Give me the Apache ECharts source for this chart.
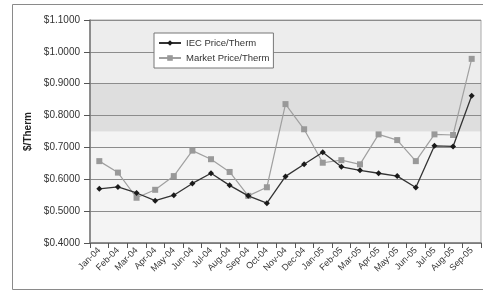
<!DOCTYPE html>
<html>
<head>
<meta charset="utf-8">
<script src="https://cdn.jsdelivr.net/npm/echarts@6/dist/echarts.min.js"></script>
<style>
  html, body { margin: 0; padding: 0; background: #fff; }
  #chart { width: 483px; height: 293px; }
</style>
</head>
<body>
<div id="chart"></div>
<script>
// months on the x axis
const months = ['Jan-04', 'Feb-04', 'Mar-04', 'Apr-04', 'May-04', 'Jun-04', 'Jul-04', 'Aug-04',
  'Sep-04', 'Oct-04', 'Nov-04', 'Dec-04', 'Jan-05', 'Feb-05', 'Mar-05', 'Apr-05', 'May-05',
  'Jun-05', 'Jul-05', 'Aug-05', 'Sep-05'];
// $/therm values
const iecPrice = [0.570, 0.576, 0.557, 0.533, 0.550, 0.587, 0.619, 0.581, 0.548, 0.525,
  0.609, 0.647, 0.685, 0.639, 0.628, 0.619, 0.610, 0.574, 0.705, 0.703, 0.862];
const marketPrice = [0.657, 0.621, 0.542, 0.567, 0.610, 0.690, 0.663, 0.623, 0.548, 0.575,
  0.836, 0.757, 0.652, 0.660, 0.647, 0.741, 0.723, 0.657, 0.741, 0.739, 0.978];
// shaded bands behind the plot [from, to]
const bands = [[0.4, 0.75], [0.75, 0.9], [0.9, 1.1]];
const bandColors = ['#f4f4f4', '#dedede', '#ededed'];

const font = 'Liberation Sans, Arial, sans-serif';
const chart = echarts.init(document.getElementById('chart'));

chart.setOption({
  animation: false,
  textStyle: { fontFamily: font },
  grid: { left: 90, right: 2, top: 20, bottom: 50, show: true, borderColor: '#aaa', borderWidth: 1 },
  graphic: [{
    type: 'rect', z: -10, silent: true,
    shape: { x: 12.5, y: 4.5, width: 500, height: 285 },
    style: { fill: 'none', stroke: '#8a8a8a', lineWidth: 1 }
  }],
  legend: {
    orient: 'vertical',
    left: 154, top: 33,
    padding: [5, 4, 5, 4],
    itemGap: 5,
    itemWidth: 22, itemHeight: 7,
    backgroundColor: '#fff',
    borderColor: '#777', borderWidth: 1,
    textStyle: { fontFamily: font, fontSize: 9.5, color: '#333' },
    data: ['IEC Price/Therm', 'Market Price/Therm']
  },
  xAxis: {
    type: 'category',
    data: months,
    boundaryGap: true,
    axisLine: { lineStyle: { color: '#777', width: 1.5 } },
    axisTick: { show: true, length: 5, lineStyle: { color: '#555' } },
    axisLabel: { rotate: 45, fontSize: 9, color: '#333', margin: 6, interval: 0, fontFamily: font },
    splitLine: { show: false }
  },
  yAxis: {
    type: 'value',
    min: 0.4, max: 1.1, interval: 0.1,
    name: '$/Therm',
    nameLocation: 'middle',
    nameGap: 55,
    nameTextStyle: { fontWeight: 'bold', fontSize: 10, color: '#222', fontFamily: font },
    axisLine: { show: true, lineStyle: { color: '#777', width: 1.5 } },
    axisTick: { show: true, length: 6, lineStyle: { color: '#555' } },
    axisLabel: {
      fontSize: 10, color: '#333', margin: 10, fontFamily: font,
      formatter: v => '$' + v.toFixed(4)
    },
    splitLine: { show: true, lineStyle: { color: '#8c8c8c', width: 1.2 } }
  },
  series: [
    {
      name: 'IEC Price/Therm',
      type: 'line',
      data: iecPrice,
      symbol: 'diamond',
      symbolSize: 6,
      lineStyle: { color: '#333', width: 1.3 },
      itemStyle: { color: '#1a1a1a' },
      z: 3,
      markArea: {
        silent: true,
        z: -1,
        data: bands.map((b, i) => [
          { yAxis: b[0], itemStyle: { color: bandColors[i] } },
          { yAxis: b[1] }
        ])
      }
    },
    {
      name: 'Market Price/Therm',
      type: 'line',
      data: marketPrice,
      symbol: 'rect',
      symbolSize: 6,
      lineStyle: { color: '#a0a0a0', width: 1.2 },
      itemStyle: { color: '#999' },
      z: 2
    }
  ]
});
</script>
</body>
</html>
